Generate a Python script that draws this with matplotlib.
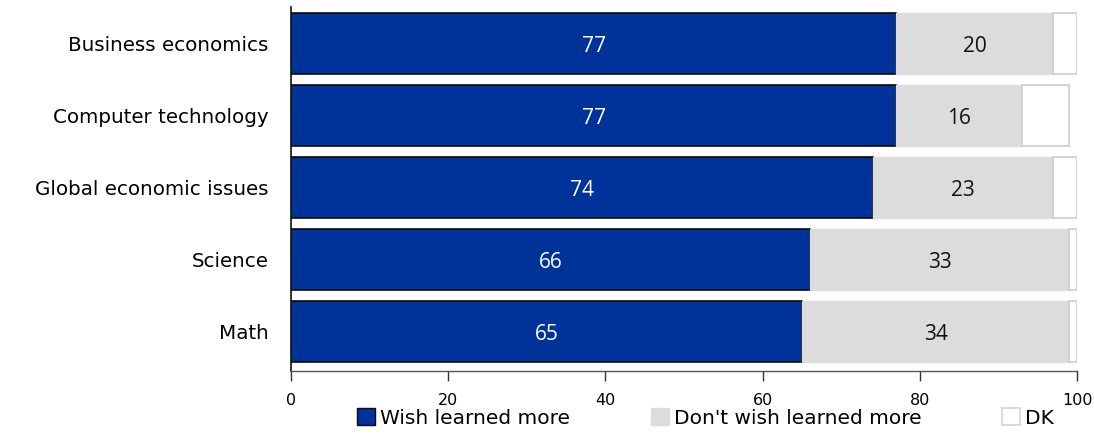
import matplotlib
matplotlib.use("Agg")
import matplotlib.pyplot as plt
from matplotlib.patches import Patch

categories = ["Business economics", "Computer technology", "Global economic issues", "Science", "Math"]
wish = [77, 77, 74, 66, 65]
dont_wish = [20, 16, 23, 33, 34]
dk = [3, 6, 3, 1, 1]
xticks = [0, 20, 40, 60, 80, 100]
series_names = ["Wish learned more", "Don't wish learned more", "DK"]

BLUE = "#00339a"
GRAY = "#dcdcdc"
EDGE_GRAY = "#d4d4d4"

plt.rcParams["font.family"] = ["DejaVu Sans"]

fig = plt.figure(figsize=(10.94, 4.37), dpi=100)
ax = fig.add_axes([291 / 1094, 1 - 371 / 437, (1077 - 291) / 1094, (371 - 7) / 437])

y = list(range(len(categories)))
h = 0.85
left2 = wish
left3 = [a + b for a, b in zip(wish, dont_wish)]

ax.barh(y, wish, height=h, color=BLUE, edgecolor="#0a0a0a", linewidth=1.2)
ax.barh(y, dont_wish, left=left2, height=h, color=GRAY, edgecolor=GRAY, linewidth=1)
ax.barh(y, dk, left=left3, height=h, color="white", edgecolor=EDGE_GRAY, linewidth=1.5)

for yi, w, d in zip(y, wish, dont_wish):
    ax.text(w / 2, yi + 0.04, str(w), ha="center", va="center", color="white",
            fontsize=15, family="Open Sans")
    ax.text(w + d / 2, yi + 0.04, str(d), ha="center", va="center", color="#111111",
            fontsize=15, family="Open Sans")

ax.set_xlim(0, 100)
ax.set_ylim(len(categories) - 1 + 0.55, -0.507)
ax.set_yticks(y)
ax.set_yticklabels(categories, fontsize=14.3)
ax.set_xticks(xticks)
ax.set_xticklabels([str(t) for t in xticks], fontsize=11.5)
ax.tick_params(axis="y", length=0, pad=16)
ax.tick_params(axis="x", direction="out", length=7, width=1, color="#333333", pad=9)

for side in ("top", "right"):
    ax.spines[side].set_visible(False)
ax.spines["left"].set_color("#111111")
ax.spines["left"].set_linewidth(1.2)
ax.spines["bottom"].set_color("#555555")
ax.spines["bottom"].set_linewidth(1)

handles = [
    Patch(facecolor=BLUE, edgecolor="#0a0a0a", linewidth=1),
    Patch(facecolor=GRAY, edgecolor=GRAY),
    Patch(facecolor="white", edgecolor=EDGE_GRAY, linewidth=1.2),
]
fig.legend(handles, series_names, loc="lower center", bbox_to_anchor=(0.645, -0.02),
           ncol=3, frameon=False, fontsize=14.5, handlelength=0.9, handleheight=0.9,
           handletextpad=0.25, columnspacing=4.0)

fig.savefig("out.png", dpi=100)
